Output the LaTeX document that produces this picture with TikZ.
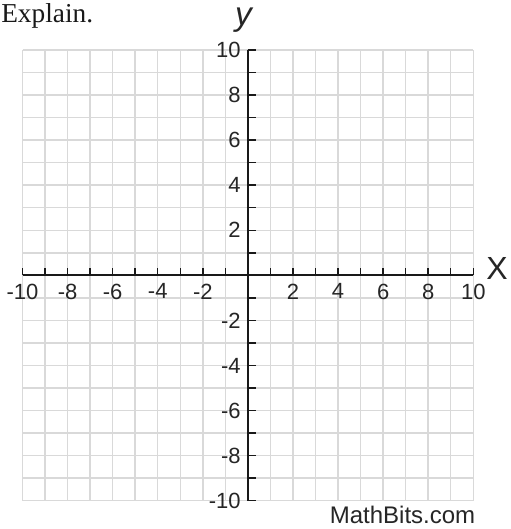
\documentclass[tikz,border=0pt]{standalone}
\usepackage{fontspec}
\setmainfont{Liberation Serif}
\setsansfont{Liberation Sans}
\begin{document}
\begin{tikzpicture}[x=0.75pt,y=-0.75pt,
  gridline/.style={draw=black!15, line width=1.1pt},
  axisline/.style={draw=black!90, line width=1.5pt},
  tickline/.style={draw=black!90, line width=1.1pt},
  ticklabel/.style={font=\sffamily\fontsize{16.5}{16.5}\selectfont, inner sep=0pt, text=black!85},
  axislabel/.style={font=\sffamily\fontsize{24}{24}\selectfont, inner sep=0pt, text=black!85}]
\useasboundingbox (0,0) rectangle (511,529);
\fill[white] (0,0) rectangle (511,529);
\node[font=\rmfamily\fontsize{20.5}{20.5}\selectfont, inner sep=0pt, anchor=base west, text=black!90] (explain) at (1,22.7) {Explain.};
\node[font=\sffamily\fontsize{18}{18}\selectfont, inner sep=0pt, anchor=base, text=black!85] (credit) at (402.5,523) {MathBits.com};
\begin{scope}[shift={(185.925pt,-206.51pt)}, x=16.905pt, y=16.90pt]
  \foreach \i in {-10,...,10} {
    \draw[gridline] (\i,-10) -- (\i,10);
    \draw[gridline] (-10,\i) -- (10,\i);
  }
  \draw[axisline] (-10,0) -- (10,0);
  \draw[axisline] (0,-10) -- (0,10);
  \foreach \i in {-10,...,10} {
    \draw[tickline] (\i,0) -- ++(0pt,5.5pt);
    \draw[tickline] (0,\i) -- ++(6pt,0pt);
  }
  \foreach \i in {-10,-8,-6,-4,-2,2,4,6,8,10} {
    \node[ticklabel, anchor=north] (xl\i) at (\i,-0.36) {\i};
    \node[ticklabel, anchor=east] (yl\i) at (-0.31,\i) {\i};
  }
  \node[axislabel, font=\sffamily\itshape\fontsize{25}{25}\selectfont] (ylab) at (-0.2,11.34) {y};
  \node[axislabel] (xlab) at (11.05,0.3) {X};
\end{scope}
\end{tikzpicture}
\end{document}
